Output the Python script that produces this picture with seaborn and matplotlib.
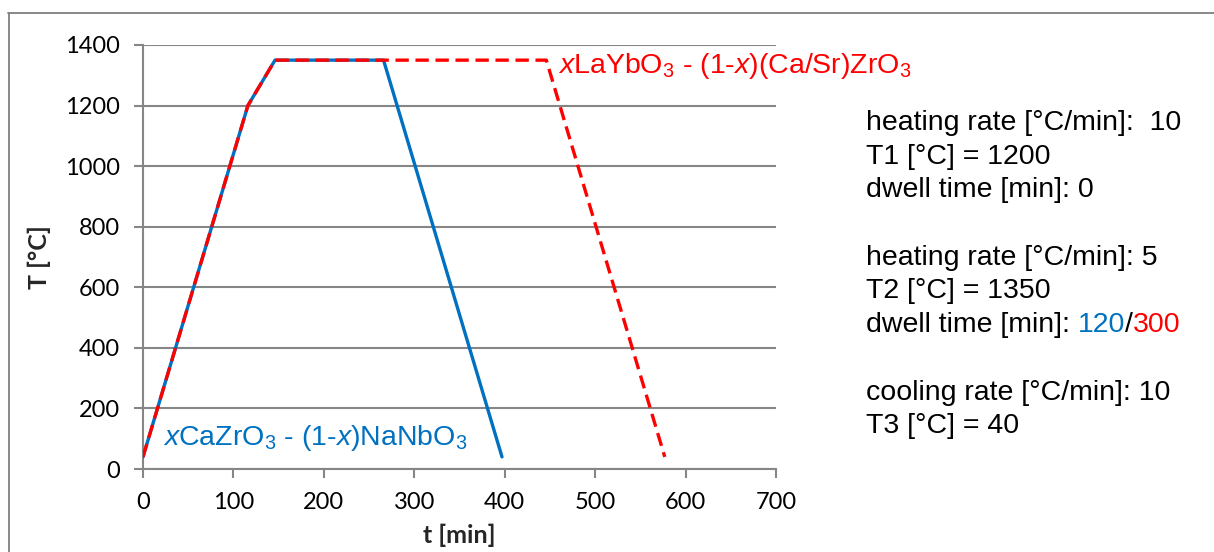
import matplotlib
matplotlib.use("Agg")
import matplotlib.pyplot as plt
import seaborn as sns
import pandas as pd
from matplotlib.lines import Line2D

# ---- data ----
time_blue = [0, 116, 146, 266, 397]
temp_blue = [40, 1200, 1350, 1350, 40]
time_red = [0, 116, 146, 446, 577]
temp_red = [40, 1200, 1350, 1350, 40]
x_ticks = [0, 100, 200, 300, 400, 500, 600, 700]
y_ticks = [0, 200, 400, 600, 800, 1000, 1200, 1400]
label_blue = r"$\mathit{x}$CaZrO$_3$ - (1-$\mathit{x}$)NaNbO$_3$"
label_red = r"$\mathit{x}$LaYbO$_3$ - (1-$\mathit{x}$)(Ca/Sr)ZrO$_3$"
info_lines = [
    [("heating rate [°C/min]:  10", "black")],
    [("T1 [°C] = 1200", "black")],
    [("dwell time [min]: 0", "black")],
    [],
    [("heating rate [°C/min]: 5", "black")],
    [("T2 [°C] = 1350", "black")],
    [("dwell time [min]: ", "black"), ("120", "#0070C0"), ("/", "black"), ("300", "#FF0000")],
    [],
    [("cooling rate [°C/min]: 10", "black")],
    [("T3 [°C] = 40", "black")],
]

BLUE = "#0070C0"
RED = "#FF0000"
GRAY = "#868686"

sns.set_theme(style="white")
plt.rcParams["font.family"] = ["Lato", "DejaVu Sans"]
plt.rcParams["mathtext.fontset"] = "custom"
plt.rcParams["mathtext.rm"] = "Liberation Sans"
plt.rcParams["mathtext.it"] = "Liberation Sans:italic"
plt.rcParams["mathtext.default"] = "regular"

W, H = 1214, 552
fig = plt.figure(figsize=(W / 100, H / 100), dpi=100)
ax = fig.add_axes([143 / W, 1 - 469 / H, (776 - 143) / W, (469 - 45) / H])

df_b = pd.DataFrame({"t": time_blue, "T": temp_blue})
df_r = pd.DataFrame({"t": time_red, "T": temp_red})
sns.lineplot(data=df_b, x="t", y="T", sort=False, ax=ax, color=BLUE,
             linewidth=2.4, zorder=3)
sns.lineplot(data=df_r, x="t", y="T", sort=False, ax=ax, color=RED,
             linewidth=2.4, dashes=False, zorder=4)
ax.lines[-1].set_dashes((4.0, 2.0))

ax.set_xlim(0, 700)
ax.set_ylim(0, 1400)
ax.set_xticks(x_ticks)
ax.set_yticks(y_ticks)
ax.yaxis.grid(True, color=GRAY, linewidth=1.5)
ax.xaxis.grid(False)
ax.set_axisbelow(True)
for s in ["top", "right"]:
    ax.spines[s].set_visible(False)
for s in ["left", "bottom"]:
    ax.spines[s].set_color(GRAY)
    ax.spines[s].set_linewidth(1.5)
ax.tick_params(axis="both", which="major", direction="out", length=6.5,
               width=1.5, color=GRAY, labelsize=17, pad=10, labelcolor="black",
               bottom=True, left=True)
ax.set_xlabel("t [min]", fontsize=18, fontweight="bold", labelpad=8)
ax.set_ylabel("T [°C]", fontsize=18, fontweight="bold", labelpad=10)

# series labels
ax.text(22, 78, label_blue, color=BLUE, fontsize=20.5,
        family=["Liberation Sans", "DejaVu Sans"], va="baseline", ha="left")
ax.text(459, 1307, label_red, color=RED, fontsize=20.5,
        family=["Liberation Sans", "DejaVu Sans"], va="baseline", ha="left")

# info text block
fig.canvas.draw()
renderer = fig.canvas.get_renderer()
x0 = 866 / W
y0 = 130
dy = 33.7
for i, parts in enumerate(info_lines):
    yy = 1 - (y0 + i * dy) / H
    xx = x0
    for txt, col in parts:
        t = fig.text(xx, yy, txt, color=col, fontsize=20.5,
                     family=["Liberation Sans", "DejaVu Sans"],
                     va="baseline", ha="left")
        bb = t.get_window_extent(renderer=renderer)
        xx += bb.width / W

# figure border (top & left visible)
fig.add_artist(Line2D([8 / W, 1], [1 - 12.5 / H, 1 - 12.5 / H],
                      transform=fig.transFigure, color="#7F7F7F", linewidth=1.3))
fig.add_artist(Line2D([8.5 / W, 8.5 / W], [0, 1 - 12.5 / H],
                      transform=fig.transFigure, color="#7F7F7F", linewidth=1.3))

fig.savefig("out.png", dpi=100, facecolor="white")
